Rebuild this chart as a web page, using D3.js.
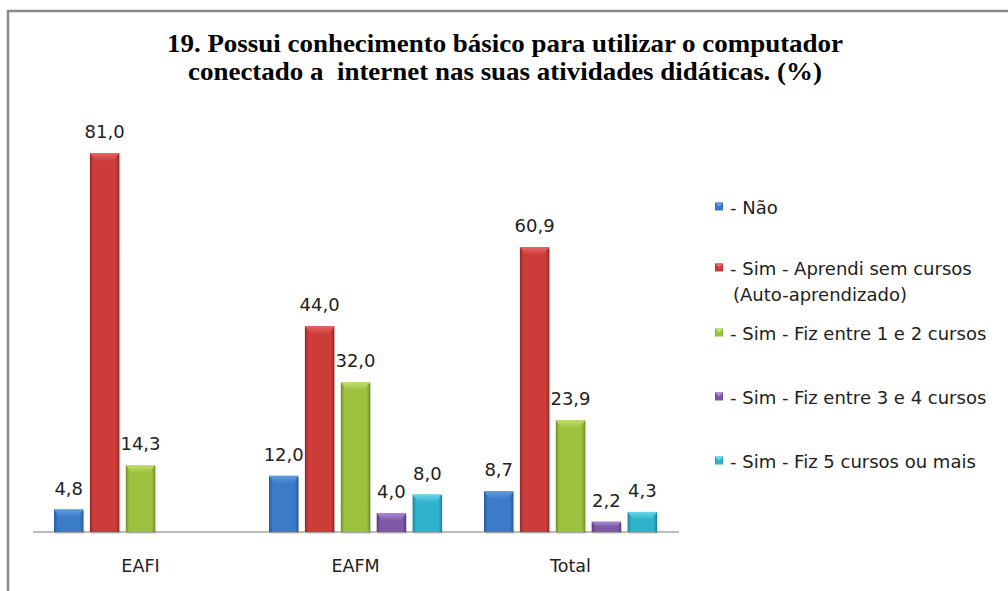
<!DOCTYPE html>
<html><head><meta charset="utf-8">
<script src="https://cdn.jsdelivr.net/npm/d3@7"></script>
<style>
html,body{margin:0;padding:0;background:#fff;}
svg{display:block;}
</style></head>
<body>
<svg id="chart" width="1008" height="591"></svg>
<script>
const titleLines = ["19. Possui conhecimento básico para utilizar o computador",
                    "conectado a  internet nas suas atividades didáticas. (%)"];
const categories = ["EAFI", "EAFM", "Total"];
const seriesNames = ["- Não",
                     "- Sim - Aprendi sem cursos\n(Auto-aprendizado)",
                     "- Sim - Fiz entre 1 e 2 cursos",
                     "- Sim - Fiz entre 3 e 4 cursos",
                     "- Sim - Fiz 5 cursos ou mais"];
const valuesNao = [4.8, 12.0, 8.7];
const valuesAuto = [81.0, 44.0, 60.9];
const valuesCurso12 = [14.3, 32.0, 23.9];
const valuesCurso34 = [null, 4.0, 2.2];
const valuesCurso5 = [null, 8.0, 4.3];
const seriesValues = [valuesNao, valuesAuto, valuesCurso12, valuesCurso34, valuesCurso5];
const colors = [
  {main:"#3b7bc8", dark:"#245a9a", light:"#5f9be0"},
  {main:"#cc3d3a", dark:"#962624", light:"#e86462"},
  {main:"#9cc23f", dark:"#6f8f25", light:"#c2de6e"},
  {main:"#7d5aa8", dark:"#56397c", light:"#a886d2"},
  {main:"#2fb2cc", dark:"#1c8299", light:"#6ad7ea"}
];

const svg = d3.select("#chart");
const defs = svg.append("defs");
colors.forEach((c,i)=>{
  const g = defs.append("linearGradient").attr("id","g"+i).attr("x1","0").attr("x2","1").attr("y1","0").attr("y2","0");
  g.append("stop").attr("offset","0").attr("stop-color",c.dark);
  g.append("stop").attr("offset","0.12").attr("stop-color",c.main);
  g.append("stop").attr("offset","0.5").attr("stop-color",c.main);
  g.append("stop").attr("offset","0.88").attr("stop-color",c.main);
  g.append("stop").attr("offset","1").attr("stop-color",c.dark);
  const t = defs.append("linearGradient").attr("id","t"+i).attr("x1","0").attr("x2","0").attr("y1","0").attr("y2","1");
  t.append("stop").attr("offset","0").attr("stop-color",c.light);
  t.append("stop").attr("offset","1").attr("stop-color",c.main);
});

// frame
svg.append("path").attr("d","M8,591 V11 H1008").attr("fill","none").attr("stroke","#8a8a8a").attr("stroke-width",2.5);

// title
const title = svg.append("g").attr("font-family","'Liberation Serif','Times New Roman',serif")
  .attr("font-weight","bold").attr("font-size",26).attr("fill","#000").attr("text-anchor","middle");
const titleWidths = [676, 634];
titleLines.forEach((t,i)=>{
  title.append("text").attr("x",505).attr("y",52+i*28).attr("textLength",titleWidths[i])
    .attr("lengthAdjust","spacingAndGlyphs").attr("xml:space","preserve").text(t);
});

const y = d3.scaleLinear().domain([0, 90]).range([532, 111]);
const x0 = d3.scaleBand().domain(categories).range([33, 678]).padding(0);
const x1 = d3.scaleBand().domain(d3.range(5)).range([21, 194]).paddingInner(0.18).paddingOuter(0);
const fmt = v => d3.format(".1f")(v).replace(".", ",");
const font = "'DejaVu Sans',sans-serif";

// axis line
svg.append("line").attr("x1",33).attr("x2",679).attr("y1",y(0)).attr("y2",y(0)).attr("stroke","#a6a6a6").attr("stroke-width",1.5);

const bars = [];
categories.forEach((cat,ci)=>{
  seriesValues.forEach((vals,si)=>{
    if (vals[ci] != null) bars.push({cat, si, v: vals[ci]});
  });
});

const gb = svg.append("g");
bars.forEach(b=>{
  const bx = x0(b.cat) + x1(b.si), bw = x1.bandwidth();
  const top = y(b.v), bot = y(0), h = bot - top;
  const g = gb.append("g");
  g.append("rect").attr("x",bx+1).attr("y",top+2).attr("width",bw).attr("height",h).attr("fill","#000").attr("opacity",0.12);
  g.append("rect").attr("x",bx).attr("y",top).attr("width",bw).attr("height",h).attr("fill",`url(#g${b.si})`);
  const bev = Math.min(8, h/2), ins = Math.min(6, bev*0.8);
  g.append("path").attr("d",`M${bx},${top} H${bx+bw} L${bx+bw-ins},${top+bev} H${bx+ins} Z`).attr("fill",`url(#t${b.si})`);
  g.append("text").attr("x",bx+bw/2).attr("y",top-15).attr("text-anchor","middle")
    .attr("font-family",font).attr("font-size",18).attr("fill","#222").text(fmt(b.v));
});

// category labels
svg.append("g").selectAll("text").data(categories).join("text")
  .attr("x",d=>x0(d)+x0.bandwidth()/2).attr("y",572).attr("text-anchor","middle")
  .attr("font-family",font).attr("font-size",17.5).attr("fill","#222").text(d=>d);

// legend
const legendY = [207, 268, 333, 397, 461];
const lg = svg.append("g");
seriesNames.forEach((name,i)=>{
  const yy = legendY[i];
  lg.append("rect").attr("x",715).attr("y",yy-4.5).attr("width",8).attr("height",8).attr("fill",`url(#g${i})`);
  lg.append("path").attr("d",`M715,${yy-4.5} H723 L720,${yy-1} H718 Z`).attr("fill",colors[i].light);
  const lines = name.split("\n");
  lines.forEach((ln,k)=>{
    lg.append("text").attr("x",k===0?730:733).attr("y",yy+6.5+k*26)
      .attr("font-family",font).attr("font-size",18).attr("fill","#222").text(ln);
  });
});
</script>
</body></html>
